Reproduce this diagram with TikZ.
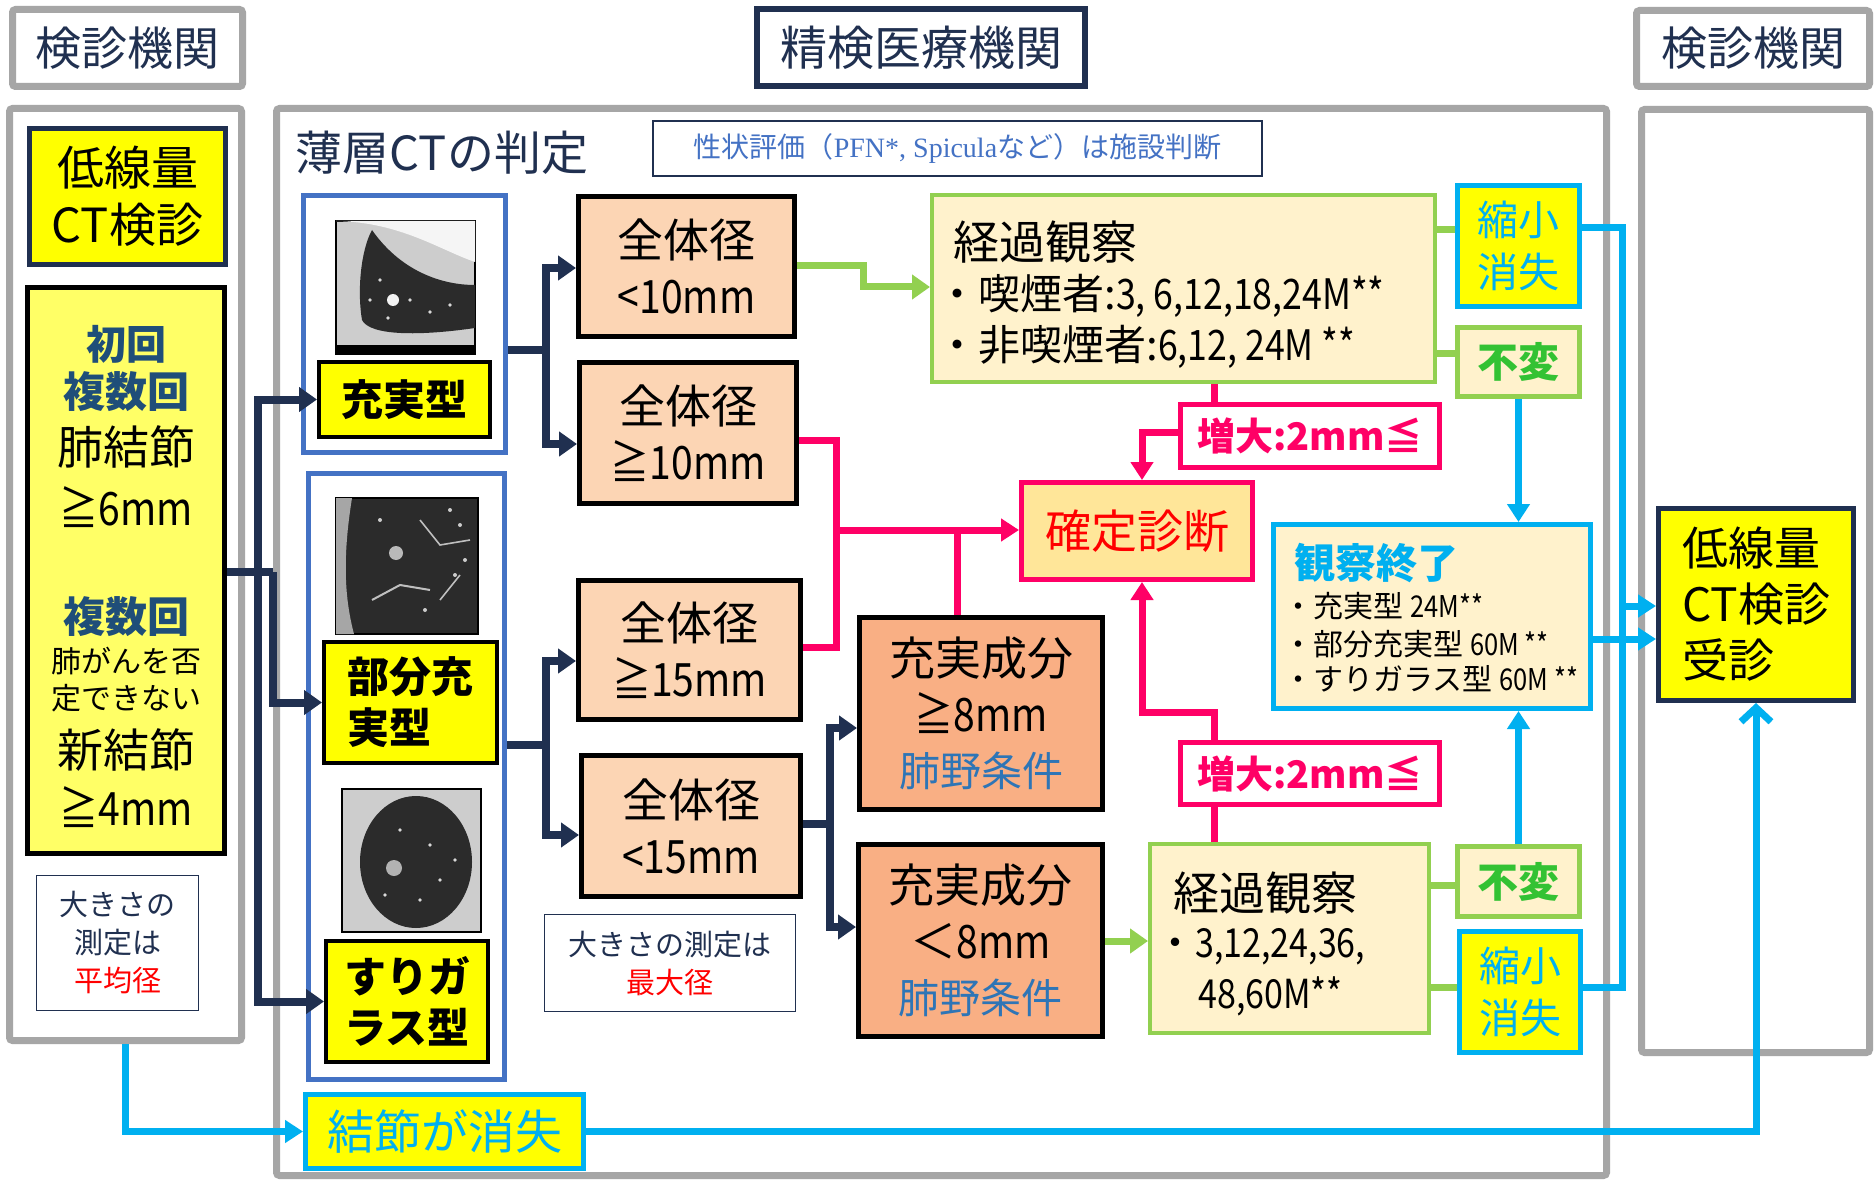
\documentclass[tikz,border=0pt]{standalone}
\usepackage{fontspec}
\setmainfont{Noto Sans CJK JP}
\newfontfamily\numfont[FakeStretch=0.85]{Noto Sans CJK JP}
\newfontfamily\latinserif{Liberation Serif}
\usetikzlibrary{arrows.meta}

\definecolor{framegray}{HTML}{A6A6A6}
\definecolor{ptnavy}{HTML}{203050}
\definecolor{ptyellow}{HTML}{FFFF00}
\definecolor{lightyellow}{HTML}{FFFF66}
\definecolor{grpblue}{HTML}{4472C4}
\definecolor{peach}{HTML}{FCD5B4}
\definecolor{salmon}{HTML}{F9AF84}
\definecolor{cream}{HTML}{FFF2CC}
\definecolor{ptgreen}{HTML}{92D050}
\definecolor{samegreen}{HTML}{33C233}
\definecolor{ptcyan}{HTML}{00B0F0}
\definecolor{ptmagenta}{HTML}{FF0066}
\definecolor{diagfill}{HTML}{FFE699}
\definecolor{titleblue}{HTML}{1F4E79}
\definecolor{fieldblue}{HTML}{2E75B6}
\definecolor{ctlight}{HTML}{CDCDCD}
\definecolor{ctdark}{HTML}{2B2B2B}

\tikzset{
    wh/.style 2 args = {minimum width=#1*0.5pt, minimum height=#2*0.5pt},
    gray-frame/.style = {draw=framegray, line width=3.5pt, fill=white, rounded corners=1.5pt, inner sep=0pt, text=ptnavy, font=\fontsize{23}{28}\selectfont},
    navy-frame/.style = {draw=ptnavy, line width=3pt, fill=white, inner sep=0pt, text=ptnavy, font=\fontsize{23.5}{28}\selectfont},
    ldct-box/.style = {draw=ptnavy, fill=ptyellow, line width=2.5pt, inner sep=0pt, align=center, font=\fontsize{23.5}{28.5}\selectfont},
    crit-box/.style = {draw=black, fill=lightyellow, line width=2.5pt},
    crit-em/.style = {inner sep=0pt, text=titleblue, font=\bfseries\fontsize{21}{24}\selectfont},
    crit-text/.style = {inner sep=0pt, font=\fontsize{23}{28}\selectfont},
    crit-small/.style = {inner sep=0pt, font=\fontsize{15}{18}\selectfont},
    note-box/.style = {draw=ptnavy, line width=0.7pt, fill=white, inner sep=0pt, align=center, text=ptnavy, font=\fontsize{14.5}{19}\selectfont},
    group-box/.style = {draw=grpblue, line width=2.5pt},
    type-box/.style = {draw=black, fill=ptyellow, line width=2pt, inner sep=0pt, align=left, font=\bfseries\fontsize{21}{25.5}\selectfont},
    ct-img/.style = {draw=black, line width=0.6pt, inner sep=0pt},
    size-box/.style = {draw=black, fill=peach, line width=2.5pt, inner sep=0pt, align=center, font=\fontsize{23}{28}\selectfont},
    solid-box/.style = {draw=black, fill=salmon, line width=2.5pt, inner sep=0pt, align=center, font=\fontsize{23}{27.75}\selectfont},
    obs-box/.style = {draw=ptgreen, fill=cream, line width=2pt},
    obs-title/.style = {inner sep=0pt, anchor=west, font=\fontsize{23}{28}\selectfont},
    obs-item/.style = {inner sep=0pt, anchor=west, font=\fontsize{21}{25}\selectfont},
    shrink-box/.style = {draw=ptcyan, fill=ptyellow, line width=2.5pt, inner sep=0pt, align=center, text=ptcyan, font=\fontsize{20.5}{26}\selectfont},
    same-box/.style = {draw=ptgreen, fill=cream, line width=2.5pt, inner sep=0pt, text=samegreen, font=\bfseries\fontsize{20.5}{25}\selectfont},
    grow-box/.style = {draw=ptmagenta, fill=white, line width=2.5pt, inner sep=0pt, text=ptmagenta, font=\bfseries\fontsize{19}{23}\selectfont},
    diag-box/.style = {draw=ptmagenta, fill=diagfill, line width=2.5pt, inner sep=0pt, text=red, font=\fontsize{23}{28}\selectfont},
    end-box/.style = {draw=ptcyan, fill=cream, line width=2.5pt},
    end-title/.style = {inner sep=0pt, anchor=west, text=ptcyan, font=\bfseries\fontsize{20.5}{25}\selectfont},
    end-item/.style = {inner sep=0pt, anchor=west, font=\fontsize{15}{18}\selectfont},
    recv-box/.style = {draw=ptnavy, fill=ptyellow, line width=2.5pt, inner sep=0pt, align=left, font=\fontsize{23}{28}\selectfont},
    vanish-box/.style = {draw=ptcyan, fill=ptyellow, line width=2.5pt, inner sep=0pt, text=ptcyan, font=\fontsize{23.5}{28}\selectfont},
    navy-line/.style = {draw=ptnavy, line width=4pt},
    navy-arrow/.style = {navy-line, -{Triangle[length=9pt,width=12pt]}},
    green-line/.style = {draw=ptgreen, line width=3.5pt},
    green-arrow/.style = {green-line, -{Triangle[length=9pt,width=12pt]}},
    magenta-line/.style = {draw=ptmagenta, line width=3.5pt},
    magenta-arrow/.style = {magenta-line, -{Triangle[length=9pt,width=11pt]}},
    cyan-line/.style = {draw=ptcyan, line width=3.5pt},
    cyan-arrow/.style = {cyan-line, -{Triangle[length=9pt,width=11pt]}},
    cyan-open/.style = {cyan-line, -{Straight Barb[length=7pt,width=15pt]}},
}

\begin{document}
\begin{tikzpicture}[x=0.5pt, y=-0.5pt]
\useasboundingbox (0,0) rectangle (1874,1182);
\fill[white] (0,0) rectangle (1874,1182);

% headers and frames
\node[gray-frame, wh={230}{77}] (hdr-left) at (127.5,48) {検診機関};
\node[navy-frame, wh={328}{77}] (hdr-mid) at (921,47.5) {精検医療機関};
\node[gray-frame, wh={233}{76}] (hdr-right) at (1753,48.5) {検診機関};
\node[gray-frame, wh={232}{932}] (frame-left) at (125.5,574.5) {};
\node[gray-frame, wh={1330}{1067}] (frame-main) at (941.5,642) {};
\node[gray-frame, wh={228}{943}] (frame-right) at (1755.5,581) {};

% screening side
\node[ldct-box, wh={196}{136}] (ldct) at (127.5,196.5) {低線量\\CT検診};
\node[crit-box, wh={197}{566}] (crit) at (126,570.5) {};
\node[crit-em, font=\bfseries\fontsize{20}{24}\selectfont] (crit-first) at (126,344) {初回};
\node[crit-em] (crit-multi) at (126,392) {複数回};
\node[crit-text] (crit-nodule) at (126,447) {肺結節};
\node[crit-text] (crit-six) at (126,507) {\numfont ≧6mm};
\node[crit-em] (crit-multi-2) at (126,617) {複数回};
\node[crit-small] (crit-deny-1) at (126,661) {肺がんを否};
\node[crit-small] (crit-deny-2) at (126,698) {定できない};
\node[crit-text] (crit-new) at (126,750) {新結節};
\node[crit-text] (crit-four) at (126,807) {\numfont ≧4mm};
\node[note-box, wh={162}{135}] (note-left) at (117.5,943) {大きさの\\測定は\\{\color{red}平均径}};

% thin-section CT
\node[inner sep=0pt, text=ptnavy, font=\fontsize{23.5}{28}\selectfont] (ct-title) at (442,153) {薄層CTの判定};
\node[note-box, wh={609}{55}, text=grpblue, font=\fontsize{14}{18}\selectfont] (note-top) at (957.5,148.5) {性状評価（{\latinserif PFN*, Spicula}など）は施設判断};

\node[group-box, wh={202}{257}] (group-solid) at (404.5,324) {};
\node[group-box, wh={196}{606}] (group-part) at (406.5,776.5) {};

\node[ct-img, fill=ctlight, wh={139}{133}] (img-1) at (405.5,287.5) {};
\begin{scope}
\clip (img-1.north west) rectangle (img-1.south east);
\fill[white!92!gray] (336,221) .. controls (400,222) and (440,250) .. (475,262) -- (475,221) -- cycle;
\fill[ctdark] (372,230) .. controls (400,270) and (440,285) .. (475,285) -- (475,328) .. controls (420,336) and (370,336) .. (362,320) .. controls (357,290) and (361,250) .. (372,230) -- cycle;
\fill[white!90!gray] (393,300) circle (6);
\foreach \px/\py in {380/280, 410/300, 430/312, 388/318, 450/305, 370/300}
    \fill[white!70!gray] (\px,\py) circle (1.8);
\fill[black] (336,345) rectangle (475,354);
\end{scope}
\node[type-box, wh={171}{75}] (type-solid) at (404.5,399.5) {充実型};

\node[ct-img, fill=ctdark, wh={142}{136}] (img-2) at (407,566) {};
\begin{scope}
\clip (img-2.north west) rectangle (img-2.south east);
\fill[gray!70] (336,498) -- (352,498) .. controls (342,560) and (345,600) .. (354,634) -- (336,634) -- cycle;
\draw[white!75!black, line width=1pt] (372,600) -- (400,585) -- (430,590);
\draw[white!75!black, line width=0.8pt] (420,520) -- (440,545) -- (470,540);
\draw[white!75!black, line width=0.8pt] (440,600) -- (460,575);
\fill[gray!55] (396,553) circle (7);
\foreach \px/\py in {450/510, 460/525, 465/560, 455/575, 380/520, 425/610}
    \fill[white!80!black] (\px,\py) circle (2);
\end{scope}
\node[type-box, wh={173}{121}] (type-part) at (410.5,702.5) {部分充\\実型};

\node[ct-img, fill=ctlight, wh={139}{143}] (img-3) at (411.5,860.5) {};
\begin{scope}
\clip (img-3.north west) rectangle (img-3.south east);
\fill[ctdark] (416,862) ellipse [x radius=56, y radius=66];
\fill[gray!60] (394,868) circle (8);
\foreach \px/\py in {400/830, 430/845, 440/880, 420/900, 385/895, 455/860}
    \fill[white!70!gray] (\px,\py) circle (1.8);
\end{scope}
\node[type-box, wh={162}{121}] (type-ggo) at (407,1001.5) {すりガ\\ラス型};

\node[size-box, wh={216}{140}] (size-lt10) at (686.5,266.5) {全体径\\{\numfont <10mm}};
\node[size-box, wh={217}{141}] (size-ge10) at (688,433) {全体径\\{\numfont ≧10mm}};
\node[size-box, wh={222}{139}] (size-ge15) at (689.5,650) {全体径\\{\numfont ≧15mm}};
\node[size-box, wh={219}{141}] (size-lt15) at (691,826) {全体径\\{\numfont <15mm}};
\node[note-box, wh={251}{97}] (note-mid) at (670,963) {大きさの測定は\\{\color{red}最大径}};

\node[solid-box, wh={243}{192}] (solid-ge8) at (981,713.5) {充実成分\\{\numfont ≧8mm}\\{\color{fieldblue}\fontsize{20.5}{24}\selectfont 肺野条件}};
\node[solid-box, wh={244}{192}] (solid-lt8) at (980.5,940.5) {充実成分\\＜{\numfont 8mm}\\{\color{fieldblue}\fontsize{20.5}{24}\selectfont 肺野条件}};

\node[vanish-box, wh={278}{74}] (vanish) at (444.5,1131.5) {結節が消失};

% follow-up
\node[obs-box, wh={503}{187}] (obs-top) at (1183.5,288.5) {};
\node[obs-title] (obs-top-title) at (953,242) {経過観察};
\node[obs-item] (obs-top-smoker) at (936,296) {・喫煙者:{\numfont 3, 6,12,18,24M**}};
\node[obs-item] (obs-top-nonsmoker) at (936,347) {・非喫煙者:{\numfont 6,12, 24M **}};

\node[shrink-box, wh={122}{121}] (shrink-top) at (1518.5,246) {縮小\\消失};
\node[same-box, wh={122}{69}] (same-top) at (1518.5,362) {不変};
\node[grow-box, wh={259}{63}] (grow-top) at (1310,436) {増大:2mm≦};
\node[diag-box, wh={231}{97}] (diag) at (1137,531) {確定診断};

\node[end-box, wh={317}{184}] (obs-end) at (1432,616.5) {};
\node[end-title] (obs-end-title) at (1294,563) {観察終了};
\node[end-item] (obs-end-solid) at (1283,606) {・充実型 {\numfont 24M**}};
\node[end-item] (obs-end-part) at (1283,644) {・部分充実型 {\numfont 60M **}};
\node[end-item] (obs-end-ggo) at (1283,679) {・すりガラス型 {\numfont 60M **}};

\node[recv-box, wh={195}{192}] (recv) at (1756,604.5) {低線量\\CT検診\\受診};

\node[grow-box, wh={259}{62}] (grow-bot) at (1310,773.5) {増大:2mm≦};
\node[obs-box, wh={279}{189}] (obs-bot) at (1289.5,938.5) {};
\node[obs-title] (obs-bot-title) at (1173,893) {経過観察};
\node[obs-item, font=\fontsize{20}{24}\selectfont] (obs-bot-months-1) at (1155,947) {・{\numfont 3,12,24,36,}};
\node[obs-item, font=\fontsize{20}{24}\selectfont] (obs-bot-months-2) at (1198,996) {\numfont 48,60M**};
\node[same-box, wh={122}{70}] (same-bot) at (1518.5,881.5) {不変};
\node[shrink-box, wh={121}{121}] (shrink-bot) at (1520,992) {縮小\\消失};

% navy connectors
\coordinate (j-crit) at (273,572);
\coordinate (j-crit-in) at (258,572);
\draw[navy-line] (crit.east |- j-crit) -- (j-crit);
\draw[navy-arrow] (j-crit) |- (type-part.west);
\draw[navy-arrow] (j-crit-in) |- (type-solid.west);
\draw[navy-arrow] (j-crit-in) |- (type-ggo.west);

\coordinate (j-solid) at (546,350);
\draw[navy-line] (group-solid.east |- j-solid) -- (j-solid);
\draw[navy-arrow] (j-solid) |- (size-lt10.west |- 0,268);
\draw[navy-arrow] (j-solid) |- (size-ge10.west |- 0,444);

\coordinate (j-part) at (546,745);
\draw[navy-line] (group-part.east |- j-part) -- (j-part);
\draw[navy-arrow] (j-part) |- (size-ge15.west |- 0,661);
\draw[navy-arrow] (j-part) |- (size-lt15.west |- 0,835);

\coordinate (j-lt15) at (830,824);
\draw[navy-line] (size-lt15.east |- j-lt15) -- (j-lt15);
\draw[navy-arrow] (j-lt15) |- (solid-ge8.west |- 0,728);
\draw[navy-arrow] (j-lt15) |- (solid-lt8.west |- 0,927);

% green connectors
\coordinate (b-lt10) at (863,287);
\draw[green-arrow] (size-lt10.east |- 0,266) -| (b-lt10) -- (obs-top.west |- b-lt10);
\draw[green-line] (obs-top.east |- 0,230) -- (shrink-top.west |- 0,230);
\draw[green-line] (obs-top.east |- 0,353) -- (same-top.west |- 0,353);
\draw[green-arrow] (solid-lt8.east |- 0,941) -- (obs-bot.west |- 0,941);
\draw[green-line] (obs-bot.east |- 0,885) -- (same-bot.west |- 0,885);
\draw[green-line] (obs-bot.east |- 0,987) -- (shrink-bot.west |- 0,987);

% magenta connectors
\coordinate (j-diag) at (836,530);
\coordinate (j-ge8) at (957,530);
\draw[magenta-line] (size-ge10.east |- 0,440) -| (j-diag) |- (size-ge15.east |- 0,647);
\draw[magenta-arrow] (j-diag) -- (diag.west |- j-diag);
\draw[magenta-line] (j-ge8) -- (j-ge8 |- solid-ge8.north);
\draw[magenta-line] (obs-top.south -| 1214,0) -- (grow-top.north -| 1214,0);
\draw[magenta-arrow] (grow-top.west |- 0,432) -| (diag.north -| 1142,0);
\coordinate (b-grow) at (1214,712);
\draw[magenta-line] (obs-bot.north -| b-grow) -- (grow-bot.south -| b-grow);
\draw[magenta-arrow] (grow-bot.north -| b-grow) -- (b-grow) -| (diag.south -| 1142,0);

% cyan connectors
\coordinate (j-recv) at (1622,606);
\draw[cyan-line] (shrink-top.east |- 0,228) -| (j-recv) |- (shrink-bot.east |- 0,987);
\draw[cyan-arrow] (j-recv) -- (recv.west |- j-recv);
\draw[cyan-arrow] (obs-end.east |- 0,639) -- (recv.west |- 0,639);
\draw[cyan-arrow] (same-top.south) -- (obs-end.north -| same-top.south);
\draw[cyan-arrow] (same-bot.north) -- (obs-end.south -| same-bot.north);
\draw[cyan-arrow] (frame-left.south) |- (vanish.west);
\draw[cyan-open] (vanish.east) -| (recv.south);
\end{tikzpicture}
\end{document}
